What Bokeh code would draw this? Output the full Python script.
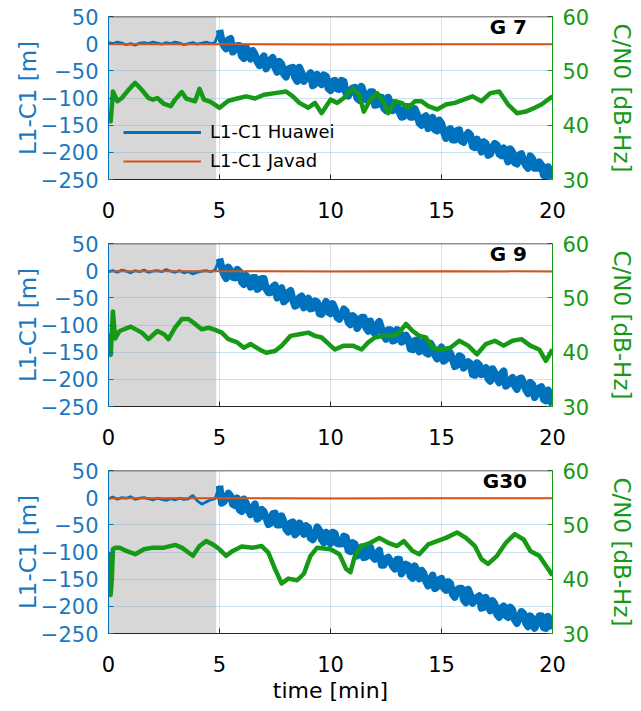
from bokeh.plotting import figure
from bokeh.models import Range1d, LinearAxis, FixedTicker, BoxAnnotation, Label, Legend, LegendItem, Span
from bokeh.layouts import column
from bokeh.embed import file_html
from bokeh.resources import INLINE

# ---------------- data ----------------
x_ticks = [0, 5, 10, 15, 20]
left_ticks = [-250, -200, -150, -100, -50, 0, 50]
right_ticks = [30, 40, 50, 60]
shade_end = 4.85

# Huawei L1-C1 samples every 0.2 min (t = 0.0 ... 20.0)
t_blue = [round(i * 0.2, 1) for i in range(101)]
lock_index = 25  # t = 5.0 min, drift starts
# extra Huawei samples read in between, t = 5.1, 5.3, ... 19.9
t_mid = [round(5.1 + i * 0.2, 1) for i in range(75)]

g7_huawei = [2, 0, 3, 1, -2, 0, -3, 1, 2, 0, 3, 1, -1, 2, 0, 3, 1, -2, 0, 2, -1, 1, 3, 0, 2,
             25, -4, 7, -15, -4, -23, -7, -28, -20, -40, -23, -39, -26, -52, -38, -61, -45, -62, -44, -69,
             -59, -77, -57, -75, -60, -86, -68, -84, -70, -96, -82, -100, -79, -103, -89, -113, -99, -118,
             -99, -123, -111, -135, -116, -135, -120, -146, -136, -156, -136, -160, -147, -174, -157, -177,
             -159, -181, -164, -189, -176, -199, -184, -203, -184, -203, -192, -217, -200, -221, -203, -224,
             -207, -229, -218, -242, -227, -248]
g7_huawei_mid = [6, -9, 9, -11, -4, -27, -16, -13, -33, -29, -46, -30, -44, -33, -56, -47, -44, -69, -54, -64,
                 -54, -74, -69, -58, -82, -69, -83, -68, -91, -87, -81, -104, -91, -100, -89, -112, -99, -123, -111, -109,
                 -126, -134, -116, -135, -130, -150, -133, -148, -158, -141, -163, -159, -177, -160, -179, -170, -168, -191, -188, -181,
                 -205, -191, -187, -206, -206, -194, -219, -205, -216, -229, -212, -229, -223, -244, -233]

g9_huawei = [-2, 0, -3, 1, -1, -4, 0, -2, 1, -3, -1, 0, -2, 2, -1, -3, 0, -4, -2, -6, -3, -1, 0, -2, 1,
             22, -7, 6, -12, 2, -21, -9, -30, -13, -31, -15, -40, -30, -50, -32, -53, -37, -65, -50, -68,
             -51, -69, -58, -80, -57, -79, -70, -89, -71, -95, -83, -106, -86, -105, -93, -116, -94, -119,
             -109, -129, -109, -131, -119, -144, -129, -149, -130, -153, -141, -162, -141, -163, -152, -176,
             -157, -179, -168, -191, -170, -191, -179, -203, -188, -206, -185, -209, -197, -218, -198, -219,
             -206, -233, -216, -237, -220, -248]
g9_huawei_mid = [5, -14, 0, -13, -2, -25, -18, -13, -34, -15, -33, -40, -27, -37, -57, -40, -53, -63, -47, -55,
                 -70, -56, -79, -66, -76, -61, -86, -82, -75, -99, -87, -99, -86, -111, -110, -99, -108, -126, -109, -128,
                 -111, -129, -126, -145, -128, -141, -151, -134, -155, -147, -166, -147, -163, -174, -159, -174, -171, -192, -174, -183,
                 -199, -181, -199, -190, -212, -202, -212, -199, -208, -226, -210, -225, -214, -239, -232]

g30_huawei = [-2, 1, -3, 0, -1, 2, -3, -1, 0, -2, -4, -1, -3, -5, -2, -4, -1, -3, -2, 4, -6, -12, -8, -4, -2,
              22, -7, 8, -12, -1, -25, -10, -31, -12, -36, -26, -49, -30, -50, -34, -58, -47, -68, -47, -67,
              -55, -77, -54, -77, -64, -84, -66, -85, -71, -97, -83, -107, -91, -109, -92, -113, -97, -124,
              -110, -126, -114, -140, -123, -144, -126, -149, -140, -162, -143, -164, -149, -170, -158, -183,
              -167, -188, -169, -194, -184, -203, -184, -208, -196, -220, -200, -220, -207, -231, -210, -231,
              -218, -240, -218, -239, -219, -242]
g30_huawei_mid = [-10, 1, 3, -14, -22, -3, -23, -18, -39, -22, -37, -47, -29, -50, -45, -63, -45, -64, -54, -52,
                  -74, -69, -60, -83, -67, -64, -84, -85, -73, -99, -86, -97, -110, -93, -109, -102, -124, -112, -117, -131,
                  -114, -133, -125, -148, -136, -134, -154, -150, -167, -151, -166, -155, -178, -170, -167, -193, -179, -189, -181, -202,
                  -199, -190, -215, -203, -217, -202, -225, -220, -214, -237, -223, -231, -218, -240, -225]

t_javad = [0, 5, 10, 15, 20]
g7_javad = [-1, -1, -1.5, -1, -1]
g9_javad = [-1, -1, -1.5, -1, -1.5]
g30_javad = [-1, -1, -1.5, -1, -1]

g7_cn0_t = [0, 0.1, 0.2, 0.4, 0.6, 0.9, 1.2, 1.5, 1.8, 2.0, 2.2, 2.5, 2.8, 3.0, 3.3, 3.5, 3.9, 4.1, 4.3, 4.6,
            5.0, 5.4, 5.8, 6.2, 6.6, 7.0, 7.5, 8.0, 8.3, 8.6, 9.0, 9.3, 9.6, 10.0, 10.3, 10.6, 11.0, 11.3, 11.5, 11.8,
            12.1, 12.4, 12.6, 12.9, 13.2, 13.5, 13.8, 14.1, 14.4, 14.8, 15.2, 15.6, 16.0, 16.4, 16.8, 17.2, 17.6, 18.0,
            18.4, 18.8, 19.2, 19.5, 20.0]
g7_cn0 = [42.5, 40.7, 46.2, 44.4, 45.0, 46.5, 47.8, 46.5, 45.0, 44.7, 45.0, 43.9, 43.5, 44.7, 46.1, 44.9, 44.4, 46.7, 44.7, 44.3,
          43.2, 44.5, 44.9, 45.3, 44.9, 45.6, 45.9, 46.2, 45.3, 44.1, 43.2, 44.1, 42.2, 44.7, 44.1, 45.0, 46.7, 45.6, 42.5, 44.7,
          45.9, 44.1, 42.2, 44.4, 44.1, 43.2, 44.4, 44.4, 43.5, 42.9, 43.8, 44.1, 44.7, 45.3, 44.4, 45.9, 46.2, 43.8,
          42.2, 42.5, 43.2, 43.8, 45.3]

g9_cn0_t = [0, 0.1, 0.2, 0.3, 0.5, 1.0, 1.5, 1.8, 2.2, 2.5, 2.7, 3.0, 3.3, 3.6, 3.9, 4.2, 4.5, 4.8, 5.1, 5.4,
            5.8, 6.1, 6.4, 6.8, 7.1, 7.5, 7.8, 8.2, 8.6, 9.0, 9.3, 9.6, 10.0, 10.2, 10.6, 11.0, 11.4, 11.7, 12.0, 12.4,
            12.8, 13.1, 13.4, 13.7, 14.0, 14.3, 14.6, 15.0, 15.4, 15.8, 16.2, 16.6, 17.0, 17.4, 17.8, 18.2, 18.6, 19.0,
            19.4, 19.7, 20.0]
g9_cn0 = [43.5, 39.5, 47.5, 42.5, 43.9, 44.7, 43.6, 42.4, 43.9, 43.3, 42.4, 44.5, 46.1, 46.1, 45.2, 44.2, 44.5, 44.1, 43.6, 42.4,
          41.8, 40.8, 41.5, 40.5, 39.9, 40.2, 41.2, 43.0, 43.3, 43.6, 43.0, 42.7, 41.2, 40.5, 41.2, 41.2, 40.5, 41.8, 42.7, 43.0,
          43.0, 43.6, 45.2, 43.9, 43.0, 42.7, 40.8, 40.5, 40.8, 42.1, 41.2, 39.6, 41.5, 42.1, 41.2, 42.1, 42.4, 41.2,
          40.5, 38.4, 40.5]

g30_cn0_t = [0, 0.05, 0.1, 0.15, 0.2, 0.3, 0.5, 0.8, 1.2, 1.6, 2.0, 2.5, 3.0, 3.3, 3.6, 3.8, 4.1, 4.4, 4.7, 5.0,
             5.3, 5.6, 6.0, 6.5, 6.9, 7.2, 7.5, 7.8, 8.1, 8.5, 8.8, 9.1, 9.4, 10.0, 10.4, 10.7, 10.9, 11.1, 11.4, 11.8,
             12.2, 12.6, 13.0, 13.3, 13.7, 14.0, 14.4, 14.8, 15.2, 15.7, 16.1, 16.5, 16.8, 17.1, 17.5, 17.9, 18.3, 18.7,
             19.0, 19.4, 19.7, 20.0]
g30_cn0 = [45.0, 43.8, 37.1, 40.1, 45.5, 45.8, 45.8, 45.2, 44.6, 45.5, 45.8, 45.8, 46.3, 45.8, 44.9, 44.3, 46.1, 47.0, 46.4, 45.5,
           44.3, 45.2, 46.0, 45.8, 46.1, 44.9, 41.9, 39.2, 40.1, 39.8, 41.0, 44.3, 45.8, 45.5, 44.6, 41.9, 41.3, 44.3, 46.1, 46.7,
           47.6, 46.7, 46.1, 47.0, 45.2, 44.6, 46.4, 47.0, 47.6, 48.6, 47.6, 46.1, 43.7, 42.8, 44.3, 46.7, 48.3, 47.3,
           45.2, 44.3, 42.5, 40.7]

satellites = ["G 7", "G 9", "G30"]

# ---------------- style ----------------
FONT = "DejaVu Sans"
BLUE = "#0072BD"
BLUE_TXT = "#1a78c2"
ORANGE = "#D95319"
GREEN = "#169a16"
DARK = "#262626"


def drift_series(hv, mid):
    """Interleave the 0.2-min samples after t=5 with the in-between samples."""
    ts, vs = [], []
    for i in range(len(t_mid)):
        ts += [t_blue[lock_index + i], t_mid[i]]
        vs += [hv[lock_index + i], mid[i]]
    ts.append(t_blue[-1])
    vs.append(hv[-1])
    return ts, vs


def panel(sat, hv, hmid, jv, gt, gv, legend, xlabel):
    p = figure(frame_width=444, frame_height=163,
               x_range=Range1d(0, 20), y_range=Range1d(-250, 50),
               output_backend="svg", toolbar_location=None,
               min_border_left=108, min_border_right=77, min_border_top=16,
               min_border_bottom=70 if xlabel else 48)
    p.outline_line_color = None
    p.background_fill_color = "white"
    p.extra_y_ranges = {"cn0": Range1d(30, 60)}

    xt = FixedTicker(ticks=x_ticks)
    yt = FixedTicker(ticks=left_ticks)

    p.xgrid.ticker = xt
    p.xgrid.grid_line_color = DARK
    p.xgrid.grid_line_alpha = 0.15
    p.ygrid.ticker = yt
    p.ygrid.grid_line_color = BLUE
    p.ygrid.grid_line_alpha = 0.2

    p.add_layout(BoxAnnotation(left=0, right=shade_end, fill_color="#9a9a9a", fill_alpha=0.4,
                               line_color=None, level="underlay"))
    p.add_layout(Span(location=50, dimension="width", line_color=DARK, line_width=1.5))

    xa = p.xaxis[0]
    xa.ticker = xt
    xa.axis_line_color = DARK
    xa.major_tick_line_color = DARK
    xa.major_tick_in = 5
    xa.major_tick_out = 0
    xa.minor_tick_line_color = None
    xa.major_label_text_font = FONT
    xa.major_label_text_font_size = "21px"
    xa.major_label_text_color = "black"
    xa.major_label_standoff = 22
    if xlabel:
        xa.axis_label = "time [min]"
        xa.axis_label_text_font = FONT
        xa.axis_label_text_font_size = "22px"
        xa.axis_label_text_font_style = "normal"
        xa.axis_label_text_color = "black"
        xa.axis_label_standoff = 3

    ya = p.yaxis[0]
    ya.ticker = yt
    ya.axis_line_color = BLUE
    ya.major_tick_line_color = BLUE
    ya.major_tick_in = 5
    ya.major_tick_out = 0
    ya.minor_tick_line_color = None
    ya.major_label_text_font = FONT
    ya.major_label_text_font_size = "21px"
    ya.major_label_text_color = BLUE_TXT
    ya.major_label_standoff = 10
    ya.axis_label = "L1-C1 [m]"
    ya.axis_label_text_font = FONT
    ya.axis_label_text_font_size = "23px"
    ya.axis_label_text_font_style = "normal"
    ya.axis_label_text_color = BLUE_TXT
    ya.axis_label_standoff = -3

    ra = LinearAxis(y_range_name="cn0", ticker=FixedTicker(ticks=right_ticks))
    ra.axis_line_color = GREEN
    ra.major_tick_line_color = GREEN
    ra.major_tick_in = 5
    ra.major_tick_out = 0
    ra.minor_tick_line_color = None
    ra.major_label_text_font = FONT
    ra.major_label_text_font_size = "21px"
    ra.major_label_text_color = GREEN
    ra.major_label_standoff = 10
    ra.axis_label = "C/N0 [dB-Hz]"
    ra.axis_label_text_font = FONT
    ra.axis_label_text_font_size = "23px"
    ra.axis_label_text_font_style = "normal"
    ra.axis_label_text_color = GREEN
    ra.axis_label_standoff = 17
    p.add_layout(ra, "right")

    r_h = p.line(t_blue[:lock_index + 1], hv[:lock_index + 1], line_color=BLUE, line_width=2.8)
    dts, dvs = drift_series(hv, hmid)
    p.line(dts, dvs, line_color=BLUE, line_width=7.5, line_join="round")
    r_j = p.line(t_javad, jv, line_color=ORANGE, line_width=2)
    p.line(gt, gv, line_color=GREEN, line_width=4.5, line_join="round", y_range_name="cn0")

    p.add_layout(Label(x=18.85, y=30, text=sat, text_align="right", text_baseline="middle",
                       text_font=FONT, text_font_size="20px", text_font_style="bold",
                       text_color="black"))

    if legend:
        lg = Legend(items=[LegendItem(label="L1-C1 Huawei", renderers=[r_h]),
                           LegendItem(label="L1-C1 Javad", renderers=[r_j])],
                    location=(15, 8))
        lg.background_fill_alpha = 0
        lg.border_line_color = None
        lg.label_text_font = FONT
        lg.label_text_font_size = "18px"
        lg.label_text_color = "black"
        lg.glyph_width = 78
        lg.glyph_height = 20
        lg.label_height = 20
        lg.spacing = 8
        lg.padding = 0
        lg.margin = 0
        lg.label_standoff = 9
        p.add_layout(lg)
    return p


p1 = panel(satellites[0], g7_huawei, g7_huawei_mid, g7_javad, g7_cn0_t, g7_cn0, True, False)
p2 = panel(satellites[1], g9_huawei, g9_huawei_mid, g9_javad, g9_cn0_t, g9_cn0, False, False)
p3 = panel(satellites[2], g30_huawei, g30_huawei_mid, g30_javad, g30_cn0_t, g30_cn0, False, True)

layout = column(p1, p2, p3, spacing=0)

with open("out.html", "w") as f:
    f.write(file_html(layout, INLINE))
